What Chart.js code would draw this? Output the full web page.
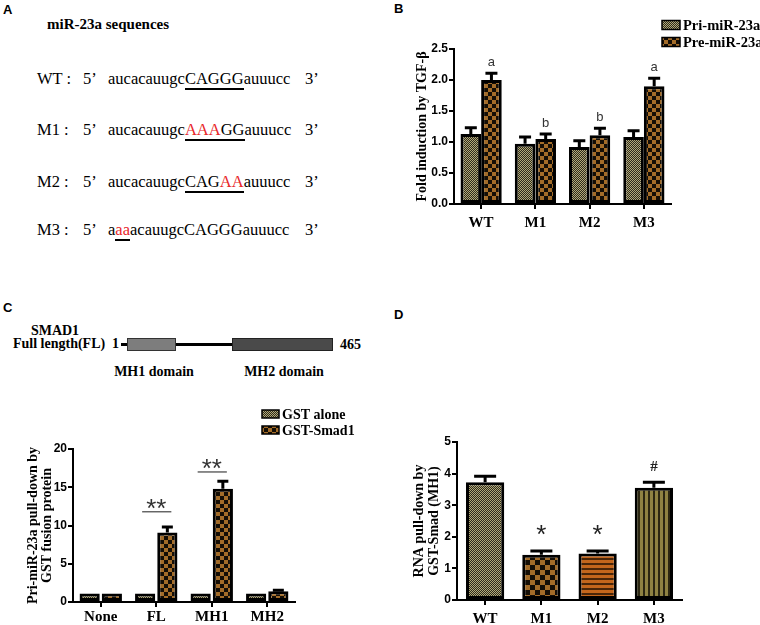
<!DOCTYPE html>
<html>
<head>
<meta charset="utf-8">
<script src="https://cdn.jsdelivr.net/npm/chart.js@4.4.0/dist/chart.umd.min.js"></script>
<style>
  body { margin: 0; background: #fff; }
  #page { position: relative; width: 760px; height: 625px; overflow: hidden; color: #000; }
  #page canvas { position: absolute; left: 0; top: 0; }
  .abs { position: absolute; white-space: nowrap; line-height: 16px; font-family: "Liberation Serif", "Times New Roman", serif; }
  .pl { position: absolute; font-family: "Liberation Sans", Arial, sans-serif; font-weight: bold; font-size: 13px; line-height: 13px; }
  .bold { font-weight: bold; font-size: 14px; }
  .seq span { position: absolute; font-family: "Liberation Serif", "Times New Roman", serif; font-size: 16.5px; line-height: 18px; white-space: nowrap; }
  .seq u { text-decoration: none; border-bottom: 2px solid #000; }
  .seq span.r, .seq .r { position: static; color: #e8262a; }
</style>
</head>
<body>
<div id="page">
  <!-- panel A: sequences -->
  <div class="pl" style="left:3px;top:3px">A</div>
  <div class="abs" style="left:47px;top:16px;font-weight:bold;font-size:15px">miR-23a sequences</div>
  <div class="seq">
    <span style="left:37px;top:70px">WT :</span><span style="left:83px;top:70px">5’</span>
    <span style="left:108px;top:70px">aucacauugc<u>CAGGG</u>auuucc</span><span style="left:305px;top:70px">3’</span>
    <span style="left:37px;top:121px">M1 :</span><span style="left:83px;top:121px">5’</span>
    <span style="left:108px;top:121px">aucacauugc<u><span class="r">AAA</span>GG</u>auuucc</span><span style="left:305px;top:121px">3’</span>
    <span style="left:37px;top:173px">M2 :</span><span style="left:83px;top:173px">5’</span>
    <span style="left:108px;top:173px">aucacauugc<u>CAG<span class="r">AA</span></u>auuucc</span><span style="left:305px;top:173px">3’</span>
    <span style="left:37px;top:221px">M3 :</span><span style="left:83px;top:221px">5’</span>
    <span style="left:108px;top:221px">a<u><span class="r">aa</span></u>acauugcCAGGGauuucc</span><span style="left:305px;top:221px">3’</span>
  </div>

  <div class="pl" style="left:394px;top:2px">B</div>
  <div class="pl" style="left:3px;top:301px">C</div>
  <div class="pl" style="left:394px;top:308px">D</div>

  <!-- panel C: SMAD1 domain sketch -->
  <div class="abs bold" style="left:0;width:110px;text-align:center;top:323px">SMAD1</div>
  <div class="abs bold" style="left:13px;top:336px">Full length(FL)</div>
  <div class="abs bold" style="left:112px;top:336px">1</div>
  <div style="position:absolute;left:121px;top:343px;width:211px;height:3px;background:#000"></div>
  <div style="position:absolute;left:127px;top:338px;width:47px;height:11px;background:#7d7d7d;border:1px solid #333"></div>
  <div style="position:absolute;left:232px;top:338px;width:99px;height:11px;background:#4a4a4a;border:1px solid #222"></div>
  <div class="abs bold" style="left:340px;top:337px">465</div>
  <div class="abs bold" style="left:104px;width:100px;text-align:center;top:364px">MH1 domain</div>
  <div class="abs bold" style="left:234px;width:100px;text-align:center;top:364px">MH2 domain</div>

  <canvas id="chartB" width="760" height="625"></canvas>
  <canvas id="chartC" width="760" height="625"></canvas>
  <canvas id="chartD" width="760" height="625"></canvas>
</div>
<script>
// panel B
const bLabels = ['WT', 'M1', 'M2', 'M3'];
const priValues = [1.13, 0.97, 0.92, 1.08];
const priErrors = [0.10, 0.11, 0.10, 0.10];
const preValues = [2.00, 1.05, 1.11, 1.90];
const preErrors = [0.11, 0.08, 0.11, 0.13];
const preLetters = ['a', 'b', 'b', 'a'];

// panel C
const cLabels = ['None', 'FL', 'MH1', 'MH2'];
const gstAlone = [1.1, 1.1, 1.1, 1.1];
const gstSmad = [1.1, 9.1, 14.8, 1.4];
const gstSmadErrors = [0, 0.7, 1.0, 0.12];
const cStars = ['', '**', '**', ''];
const cStarLines = [null, 11.8, 17.0, null];

// panel D
const dLabels = ['WT', 'M1', 'M2', 'M3'];
const dValues = [3.73, 1.43, 1.47, 3.55];
const dErrors = [0.19, 0.12, 0.08, 0.18];
const dMarks = ['', '*', '*', '#'];

const SERIF = '"Liberation Serif", serif';
const SANS = '"Liberation Sans", sans-serif';

function makePattern(size, draw) {
  const c = document.createElement('canvas');
  c.width = size;
  c.height = size;
  const g = c.getContext('2d');
  draw(g, size);
  return g.createPattern(c, 'repeat');
}

// fine dotted fill: light dots on dark ground
const dotFill = makePattern(2, (g) => {
  g.fillStyle = '#2e2b1e';
  g.fillRect(0, 0, 2, 2);
  g.fillStyle = '#b3aa78';
  g.fillRect(0, 0, 1, 1);
  g.fillRect(1, 1, 1, 1);
});
const checker = (cell) => makePattern(cell * 2, (g, s) => {
  g.fillStyle = '#140e06';
  g.fillRect(0, 0, s, s);
  g.fillStyle = '#a36c29';
  g.fillRect(0, 0, cell, cell);
  g.fillRect(cell, cell, cell, cell);
});
const checkFill = checker(4);
const bigCheckFill = checker(5);
const hStripeFill = makePattern(5, (g) => {
  g.fillStyle = '#c4661c';
  g.fillRect(0, 0, 5, 5);
  g.fillStyle = '#4b2608';
  g.fillRect(0, 3, 5, 2);
});
const vStripeFill = makePattern(5, (g) => {
  g.fillStyle = '#8f8242';
  g.fillRect(0, 0, 5, 5);
  g.fillStyle = '#2c2712';
  g.fillRect(3, 0, 2, 5);
});

// error bars drawn above each bar (value + error)
const errorBars = {
  id: 'errorBars',
  afterDatasetsDraw(chart, args, opts) {
    const { ctx } = chart;
    const y = chart.scales.y;
    chart.data.datasets.forEach((ds, di) => {
      if (!ds.errors) return;
      chart.getDatasetMeta(di).data.forEach((bar, i) => {
        const err = ds.errors[i];
        if (!err) return;
        const top = y.getPixelForValue(ds.data[i] + err);
        ctx.save();
        ctx.strokeStyle = '#000';
        ctx.lineWidth = 3;
        ctx.beginPath();
        ctx.moveTo(bar.x, bar.y);
        ctx.lineTo(bar.x, top);
        ctx.moveTo(bar.x - opts.cap / 2, top);
        ctx.lineTo(bar.x + opts.cap / 2, top);
        ctx.stroke();
        ctx.restore();
      });
    });
  }
};

// text marks over the error bars, optional significance line
const marks = {
  id: 'marks',
  afterDatasetsDraw(chart, args, opts) {
    const { ctx } = chart;
    const y = chart.scales.y;
    chart.data.datasets.forEach((ds, di) => {
      if (!ds.marks) return;
      const meta = chart.getDatasetMeta(di);
      meta.data.forEach((bar, i) => {
        const txt = ds.marks[i];
        if (!txt) return;
        const special = (opts.special || {})[txt];
        ctx.save();
        ctx.font = special ? special.font : opts.font;
        ctx.fillStyle = opts.color;
        ctx.textAlign = 'center';
        ctx.textBaseline = 'alphabetic';
        const lift = special ? special.lift : opts.lift;
        if (ds.lines && ds.lines[i] != null) {
          const ly = y.getPixelForValue(ds.lines[i]);
          const prev = chart.getDatasetMeta(di - 1).data[i];
          ctx.strokeStyle = '#666';
          ctx.lineWidth = 1.5;
          ctx.beginPath();
          ctx.moveTo(prev.x - 3, ly);
          ctx.lineTo(bar.x + 4, ly);
          ctx.stroke();
          ctx.fillText(txt, (prev.x + bar.x) / 2, ly + lift);
        } else {
          const top = y.getPixelForValue(ds.data[i] + (ds.errors ? ds.errors[i] : 0));
          ctx.fillText(txt, bar.x, top - lift);
        }
        ctx.restore();
      });
    });
  }
};

const boxLegend = {
  id: 'boxLegend',
  afterDraw(chart, args, o) {
    const { ctx } = chart;
    ctx.save();
    ctx.font = o.font;
    ctx.textBaseline = 'middle';
    chart.data.datasets.forEach((ds, i) => {
      const cy = o.y + i * o.gap;
      ctx.fillStyle = ds.backgroundColor;
      ctx.fillRect(o.x, cy - o.h / 2, o.w, o.h);
      ctx.strokeStyle = '#000';
      ctx.lineWidth = 1.5;
      ctx.strokeRect(o.x, cy - o.h / 2, o.w, o.h);
      ctx.fillStyle = '#000';
      ctx.fillText(ds.label, o.x + o.w + 3, cy + 1);
    });
    ctx.restore();
  }
};

function axes(cfg) {
  return {
    x: {
      offset: true,
      grid: { offset: false, drawOnChartArea: false, drawTicks: true, tickLength: 5, color: '#000', lineWidth: 2 },
      border: { display: true, color: '#000', width: 2 },
      ticks: { color: '#000', padding: cfg.xPad, font: { family: SERIF, weight: 'bold', size: 15 } },
      afterFit: (s) => { s.height = cfg.xH; },
    },
    y: {
      min: 0,
      max: cfg.max,
      grid: { drawOnChartArea: false, drawTicks: true, tickLength: 5, color: '#000', lineWidth: 2 },
      border: { display: true, color: '#000', width: 2 },
      ticks: { color: '#000', padding: 1, stepSize: cfg.step, font: { family: SANS, weight: 'bold', size: 12 }, callback: cfg.fmt },
      title: { display: true, text: cfg.title, color: '#000', padding: 0, font: { family: SERIF, weight: 'bold', size: 14, lineHeight: cfg.lh } },
      afterFit: (s) => { s.width = cfg.yW; },
    },
  };
}

const common = {
  responsive: false,
  animation: false,
  devicePixelRatio: 1,
  events: [],
};

// B
new Chart(document.getElementById('chartB'), {
  type: 'bar',
  data: {
    labels: bLabels,
    datasets: [
      { label: 'Pri-miR-23a', data: priValues, errors: priErrors, backgroundColor: dotFill },
      { label: 'Pre-miR-23a', data: preValues, errors: preErrors, marks: preLetters, backgroundColor: checkFill },
    ],
  },
  options: {
    ...common,
    layout: { padding: { left: 415, right: 89, top: 49, bottom: 391 } },
    datasets: { bar: { borderColor: '#000', borderWidth: 3, borderSkipped: false, categoryPercentage: 0.76, barPercentage: 1.0 } },
    scales: axes({ max: 2.5, step: 0.5, fmt: (v) => v.toFixed(1), title: 'Fold induction by TGF-β', lh: 1.1, yW: 39, xH: 30, xPad: 5 }),
    plugins: {
      legend: { display: false },
      tooltip: { enabled: false },
      errorBars: { cap: 12 },
      marks: { font: `13px ${SANS}`, color: '#333', lift: 7 },
      boxLegend: { x: 662, y: 25, gap: 17, w: 18, h: 9, font: `bold 14.5px ${SERIF}` },
    },
  },
  plugins: [errorBars, marks, boxLegend],
});

// C
new Chart(document.getElementById('chartC'), {
  type: 'bar',
  data: {
    labels: cLabels,
    datasets: [
      { label: 'GST alone', data: gstAlone, backgroundColor: dotFill },
      { label: 'GST-Smad1', data: gstSmad, errors: gstSmadErrors, marks: cStars, lines: cStarLines, backgroundColor: checkFill },
    ],
  },
  options: {
    ...common,
    layout: { padding: { left: 26, right: 465, top: 449, bottom: 0 } },
    datasets: { bar: { borderColor: '#000', borderWidth: 3, borderSkipped: false, categoryPercentage: 0.8, barPercentage: 0.91 } },
    scales: axes({ max: 20, step: 5, fmt: (v) => v, title: ['Pri-miR-23a pull-down by', 'GST fusion protein'], lh: 1.0, yW: 47, xH: 23, xPad: 1 }),
    plugins: {
      legend: { display: false },
      tooltip: { enabled: false },
      errorBars: { cap: 11 },
      marks: { font: `26px ${SANS}`, color: '#333', lift: 5 },
      boxLegend: { x: 262, y: 414, gap: 16, w: 17, h: 8, font: `bold 14px ${SERIF}` },
    },
  },
  plugins: [errorBars, marks, boxLegend],
});

// D
new Chart(document.getElementById('chartD'), {
  type: 'bar',
  data: {
    labels: dLabels,
    datasets: [
      { label: 'pull-down', data: dValues, errors: dErrors, marks: dMarks, backgroundColor: [dotFill, bigCheckFill, hStripeFill, vStripeFill] },
    ],
  },
  options: {
    ...common,
    layout: { padding: { left: 412, right: 78, top: 442, bottom: 0 } },
    datasets: { bar: { borderColor: '#000', borderWidth: 3, borderSkipped: false, categoryPercentage: 0.68, barPercentage: 1.0 } },
    scales: axes({ max: 5, step: 1, fmt: (v) => v, title: ['RNA pull-down by', 'GST-Smad (MH1)'], lh: 1.07, yW: 45, xH: 25, xPad: 5 }),
    plugins: {
      legend: { display: false },
      tooltip: { enabled: false },
      errorBars: { cap: 22 },
      marks: { font: `26px ${SANS}`, color: '#222', lift: 8, special: { '#': { font: `bold 15px ${SERIF}`, lift: 11 } } },
    },
  },
  plugins: [errorBars, marks],
});
</script>
</body>
</html>
